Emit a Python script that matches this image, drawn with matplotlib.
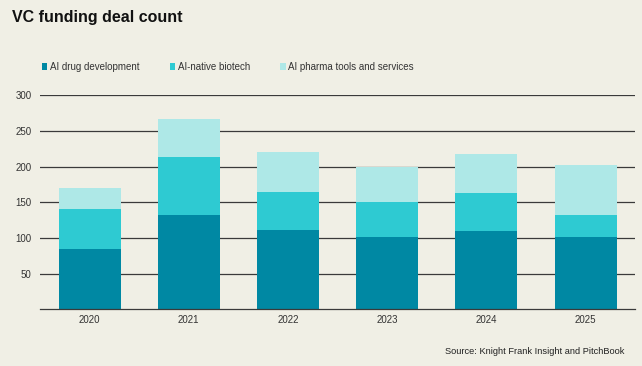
import numpy as np
import matplotlib
matplotlib.use("Agg")
import matplotlib.pyplot as plt

plt.rcParams['font.family'] = ['Liberation Sans', 'DejaVu Sans']

# data
years = ["2020", "2021", "2022", "2023", "2024", "2025"]
drug_dev = [84, 132, 111, 101, 109, 101]
native_biotech = [56, 81, 54, 49, 54, 31]
pharma_tools = [30, 53, 56, 50, 55, 70]

bg = "#F0EFE5"
c_dark = "#0088A3"
c_mid = "#2ECAD2"
c_light = "#AEE8E7"

fig = plt.figure(figsize=(6.42, 3.66), dpi=100, facecolor=bg)
ax = fig.add_axes([0.0623, 0.155, 0.927, 0.585], facecolor=bg)

x = np.arange(len(years))
w = 0.625
b1 = np.array(drug_dev)
b2 = b1 + np.array(native_biotech)
ax.bar(x, drug_dev, w, color=c_dark, label="AI drug development", zorder=3)
ax.bar(x, native_biotech, w, bottom=b1, color=c_mid, label="AI-native biotech", zorder=3)
ax.bar(x, pharma_tools, w, bottom=b2, color=c_light, label="AI pharma tools and services", zorder=3)

ax.set_xlim(-0.5, 5.5)
ax.set_ylim(0, 300)
ax.set_yticks([50, 100, 150, 200, 250, 300])
ax.set_xticks(x)
ax.set_xticklabels(years)
ax.tick_params(length=0, labelsize=7, colors="#333333", pad=4)
ax.tick_params(axis="y", pad=6)
ax.grid(axis="y", color="#3a3a3a", linewidth=0.9, zorder=1)
ax.axhline(0, color="#3a3a3a", linewidth=0.9, zorder=4, clip_on=False)
for s in ax.spines.values():
    s.set_visible(False)

fig.text(0.019, 0.953, "VC funding deal count", fontsize=11.5, fontweight="bold",
         color="#111111", va="center", ha="left")

ax.legend(loc="center left", bbox_to_anchor=(-0.012, 1.132), ncol=3, frameon=False,
          fontsize=7, handlelength=0.6, handleheight=0.6, handletextpad=0.25,
          columnspacing=3.1, labelcolor="#333333")

fig.text(0.973, 0.04, "Source: Knight Frank Insight and PitchBook", fontsize=6.7,
         color="#222222", ha="right", va="center")

fig.savefig("out.png", dpi=100, facecolor=bg)
